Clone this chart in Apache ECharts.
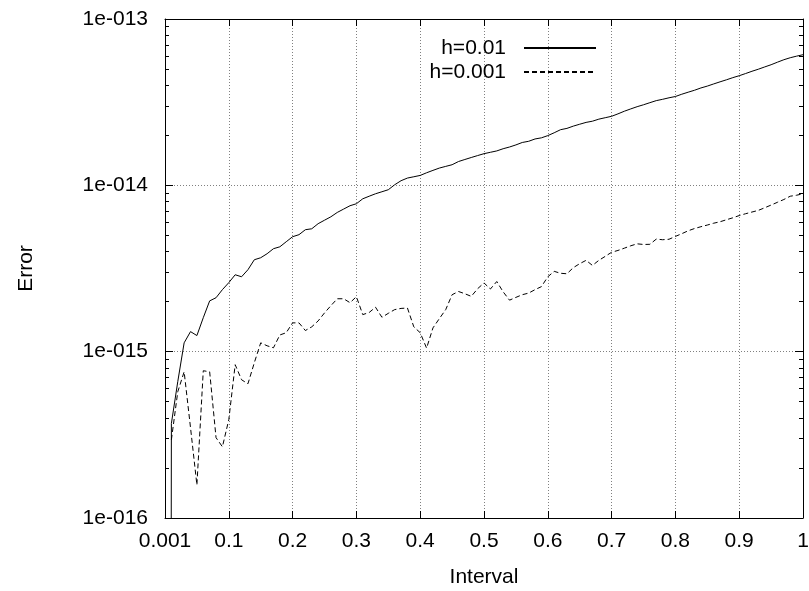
<!DOCTYPE html>
<html><head><meta charset="utf-8">
<script src="https://cdn.jsdelivr.net/npm/echarts@6/dist/echarts.min.js"></script>
<style>html,body{margin:0;padding:0;background:#fff}#c{width:809px;height:591px}</style>
</head><body><div id="c"></div><script>
// ---- data ----
const interval = [
 0.01,0.02,0.03,0.04,0.05,0.06,0.07,0.08,0.09,0.10,
 0.11,0.12,0.13,0.14,0.15,0.16,0.17,0.18,0.19,0.20,
 0.21,0.22,0.23,0.24,0.25,0.26,0.27,0.28,0.29,0.30,
 0.31,0.32,0.33,0.34,0.35,0.36,0.37,0.38,0.39,0.40,
 0.41,0.42,0.43,0.44,0.45,0.46,0.47,0.48,0.49,0.50,
 0.51,0.52,0.53,0.54,0.55,0.56,0.57,0.58,0.59,0.60,
 0.61,0.62,0.63,0.64,0.65,0.66,0.67,0.68,0.69,0.70,
 0.71,0.72,0.73,0.74,0.75,0.76,0.77,0.78,0.79,0.80,
 0.81,0.82,0.83,0.84,0.85,0.86,0.87,0.88,0.89,0.90,
 0.91,0.92,0.93,0.94,0.95,0.96,0.97,0.98,0.99,1.00
];
// first h=0.01 point lies far below the axis range (drawn as the vertical rise)
const startInterval = 0.001;
const startErrH01 = 1e-40;
const errH01 = [
 3.7e-16,6.6e-16,1.13e-15,1.32e-15,1.25e-15,1.6e-15,2.02e-15,2.11e-15,2.36e-15,2.6e-15,
 2.9e-15,2.82e-15,3.11e-15,3.57e-15,3.67e-15,3.88e-15,4.16e-15,4.27e-15,4.58e-15,4.91e-15,
 5.05e-15,5.41e-15,5.48e-15,5.88e-15,6.17e-15,6.47e-15,6.87e-15,7.2e-15,7.54e-15,7.75e-15,
 8.3e-15,8.6e-15,8.9e-15,9.15e-15,9.41e-15,1.008e-14,1.066e-14,1.106e-14,1.126e-14,1.147e-14,
 1.19e-14,1.23e-14,1.27e-14,1.30e-14,1.33e-14,1.39e-14,1.43e-14,1.47e-14,1.51e-14,1.55e-14,
 1.58e-14,1.61e-14,1.66e-14,1.70e-14,1.75e-14,1.81e-14,1.84e-14,1.90e-14,1.93e-14,1.99e-14,
 2.07e-14,2.16e-14,2.20e-14,2.27e-14,2.33e-14,2.39e-14,2.43e-14,2.50e-14,2.55e-14,2.60e-14,
 2.69e-14,2.79e-14,2.88e-14,2.97e-14,3.05e-14,3.14e-14,3.23e-14,3.29e-14,3.36e-14,3.42e-14,
 3.53e-14,3.63e-14,3.73e-14,3.85e-14,3.95e-14,4.07e-14,4.19e-14,4.31e-14,4.44e-14,4.56e-14,
 4.70e-14,4.85e-14,4.99e-14,5.15e-14,5.31e-14,5.50e-14,5.69e-14,5.85e-14,5.98e-14,6.10e-14
];
const errH001 = [
 2.95e-16,5.74e-16,7.57e-16,3.49e-16,1.58e-16,7.68e-16,7.57e-16,3.04e-16,2.68e-16,3.90e-16,
 8.35e-16,6.78e-16,6.41e-16,8.58e-16,1.13e-15,1.085e-15,1.055e-15,1.26e-15,1.30e-15,1.49e-15,
 1.49e-15,1.34e-15,1.41e-15,1.53e-15,1.71e-15,1.89e-15,2.08e-15,2.08e-15,1.97e-15,2.14e-15,
 1.67e-15,1.72e-15,1.85e-15,1.61e-15,1.70e-15,1.79e-15,1.82e-15,1.83e-15,1.41e-15,1.30e-15,
 1.05e-15,1.39e-15,1.58e-15,1.79e-15,2.20e-15,2.30e-15,2.23e-15,2.15e-15,2.39e-15,2.59e-15,
 2.38e-15,2.64e-15,2.29e-15,2.04e-15,2.12e-15,2.20e-15,2.25e-15,2.36e-15,2.46e-15,2.82e-15,
 3.04e-15,2.96e-15,2.94e-15,3.20e-15,3.38e-15,3.54e-15,3.30e-15,3.54e-15,3.74e-15,3.96e-15,
 4.06e-15,4.19e-15,4.33e-15,4.45e-15,4.41e-15,4.42e-15,4.75e-15,4.71e-15,4.74e-15,4.93e-15,
 5.12e-15,5.33e-15,5.50e-15,5.64e-15,5.77e-15,5.92e-15,6.04e-15,6.21e-15,6.38e-15,6.58e-15,
 6.75e-15,6.91e-15,7.07e-15,7.33e-15,7.61e-15,7.91e-15,8.22e-15,8.60e-15,8.72e-15,8.90e-15
];
const seriesNames = ['h=0.01', 'h=0.001'];
const xTickLabels = ['0.001','0.1','0.2','0.3','0.4','0.5','0.6','0.7','0.8','0.9','1'];
const yTickLabels = ['1e-016','1e-015','1e-014','1e-013'];
const yMinorTicks = [
 2e-16,3e-16,4e-16,5e-16,6e-16,7e-16,8e-16,9e-16,
 2e-15,3e-15,4e-15,5e-15,6e-15,7e-15,8e-15,9e-15,
 2e-14,3e-14,4e-14,5e-14,6e-14,7e-14,8e-14,9e-14
];

// ---- chart ----
const FONT = '"Liberation Sans", Arial, Helvetica, sans-serif';
const FS = 21;
const BLACK = '#000';
const solidData = [[startInterval, startErrH01]].concat(interval.map((x, i) => [x, errH01[i]]));
const dashedData = interval.map((x, i) => [x, errH001[i]]);

const yBase = { type: 'log', logBase: 10, min: 1e-16, max: 1e-13 };
const gridLine = { show: true, lineStyle: { color: '#808080', width: 1, type: [1, 2] } };

const option = {
  animation: false,
  backgroundColor: '#fff',
  textStyle: { fontFamily: FONT },
  grid: { left: 165, right: 6, top: 19, bottom: 73, containLabel: false, outerBoundsMode: 'none' },
  legend: {
    orient: 'vertical', align: 'right', right: 212, top: 36, padding: 0,
    itemWidth: 72, itemHeight: 24, itemGap: 0,
    selectedMode: false,
    itemStyle: { opacity: 0, color: 'transparent', borderWidth: 0 },
    textStyle: { fontSize: FS, color: BLACK, fontFamily: FONT, lineHeight: 24, padding: [0, 13, 0, 0] },
    data: seriesNames
  },
  xAxis: [
    { type: 'value', position: 'bottom', min: 0, max: 1, interval: 0.1,
      name: 'Interval', nameLocation: 'middle', nameGap: 49,
      nameTextStyle: { fontSize: FS, color: BLACK, fontFamily: FONT },
      axisLine: { show: true, onZero: false, lineStyle: { color: BLACK, width: 1 } },
      axisTick: { show: true, inside: true, length: 7, lineStyle: { color: BLACK } },
      axisLabel: { show: true, margin: 13, fontSize: FS, color: BLACK, fontFamily: FONT,
        showMinLabel: true, showMaxLabel: true, formatter: (v, i) => xTickLabels[i] },
      splitLine: gridLine },
    { type: 'value', position: 'top', min: 0, max: 1, interval: 0.1,
      axisLine: { show: true, onZero: false, lineStyle: { color: BLACK, width: 1 } },
      axisTick: { show: true, inside: true, length: 7, lineStyle: { color: BLACK } },
      axisLabel: { show: false }, splitLine: { show: false } }
  ],
  yAxis: [
    Object.assign({}, yBase, { position: 'left',
      name: 'Error', nameLocation: 'middle', nameGap: 128, nameRotate: 90,
      nameTextStyle: { fontSize: FS, color: BLACK, fontFamily: FONT },
      axisLine: { show: true, onZero: false, lineStyle: { color: BLACK, width: 1 } },
      axisTick: { show: true, inside: true, length: 8, lineStyle: { color: BLACK } },
      axisLabel: { show: true, margin: 17, fontSize: FS, color: BLACK, fontFamily: FONT,
        showMinLabel: true, showMaxLabel: true, formatter: (v, i) => yTickLabels[i] },
      splitLine: gridLine }),
    Object.assign({}, yBase, { position: 'left',
      axisLine: { show: false, onZero: false },
      axisTick: { show: true, inside: true, length: 4, customValues: yMinorTicks, lineStyle: { color: BLACK } },
      axisLabel: { show: false }, splitLine: { show: false } }),
    Object.assign({}, yBase, { position: 'right',
      axisLine: { show: true, onZero: false, lineStyle: { color: BLACK, width: 1 } },
      axisTick: { show: true, inside: true, length: 8, lineStyle: { color: BLACK } },
      axisLabel: { show: false }, splitLine: { show: false } }),
    Object.assign({}, yBase, { position: 'right',
      axisLine: { show: false, onZero: false },
      axisTick: { show: true, inside: true, length: 4, customValues: yMinorTicks, lineStyle: { color: BLACK } },
      axisLabel: { show: false }, splitLine: { show: false } })
  ],
  series: [
    { name: seriesNames[0], type: 'line', xAxisIndex: 0, yAxisIndex: 0, data: solidData,
      symbol: 'none', showSymbol: false, clip: true,
      lineStyle: { color: BLACK, width: 1 }, itemStyle: { color: BLACK } },
    { name: seriesNames[1], type: 'line', xAxisIndex: 0, yAxisIndex: 0, data: dashedData,
      symbol: 'none', showSymbol: false, clip: true,
      lineStyle: { color: BLACK, width: 1, type: [5, 3] }, itemStyle: { color: BLACK } }
  ]
};
const chart = echarts.init(document.getElementById('c'), null, { renderer: 'canvas' });
chart.setOption(option);
</script></body></html>
